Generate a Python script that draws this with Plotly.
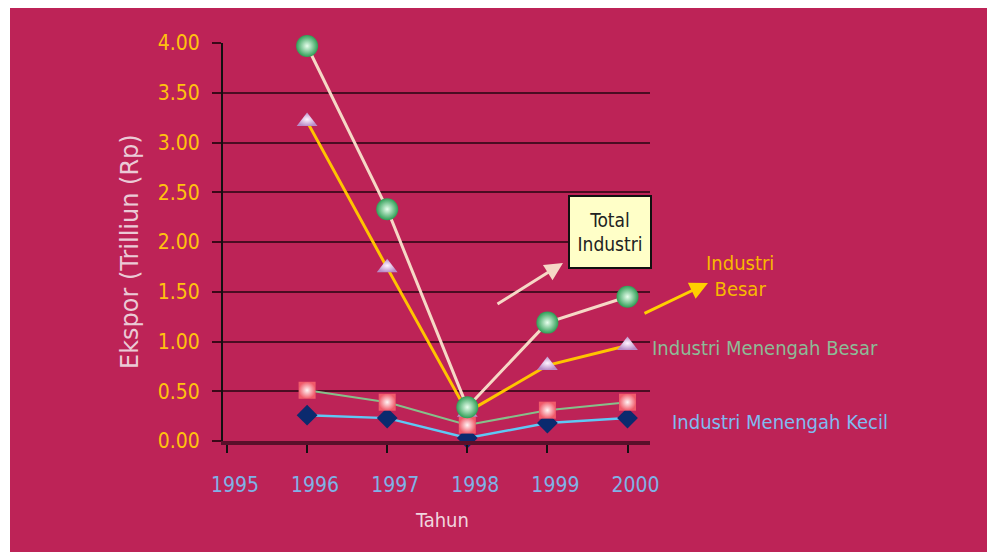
import plotly.graph_objects as go

years = [1996, 1997, 1998, 1999, 2000]
total_industri = [3.97, 2.33, 0.34, 1.19, 1.45]
industri_besar = [3.21, 1.74, 0.29, 0.76, 0.96]
menengah_besar = [0.51, 0.39, 0.16, 0.31, 0.39]
menengah_kecil = [0.26, 0.23, 0.03, 0.18, 0.23]

x_ticks = [1995, 1996, 1997, 1998, 1999, 2000]
y_ticks = [0, 0.5, 1.0, 1.5, 2.0, 2.5, 3.0, 3.5, 4.0]
y_labels = ["%.2f" % v for v in y_ticks]

MAG = "#BD2357"
NARROW = "Liberation Sans Narrow, DejaVu Sans Condensed, Arial Narrow, sans-serif"

fig = go.Figure()

fig.add_trace(go.Scatter(
    x=years, y=menengah_kecil, mode="lines+markers", cliponaxis=False,
    line=dict(color="#5EC8F5", width=2.5),
    marker=dict(symbol="diamond", size=16, color="#0B2A6E"),
))
fig.add_trace(go.Scatter(
    x=years, y=menengah_besar, mode="lines+markers", cliponaxis=False,
    line=dict(color="#86C08A", width=2),
    marker=dict(symbol="square", size=17, color="#F05A6A",
                gradient=dict(type="radial", color="#FFF4F4")),
))
fig.add_trace(go.Scatter(
    x=years, y=industri_besar, mode="lines+markers", cliponaxis=False,
    line=dict(color="#FFC400", width=3),
    marker=dict(symbol="triangle-up", size=18, color="#B98CC8",
                gradient=dict(type="radial", color="#FFF4FF")),
))
fig.add_trace(go.Scatter(
    x=years, y=total_industri, mode="lines+markers", cliponaxis=False,
    line=dict(color="#F6D8C6", width=3),
    marker=dict(symbol="circle", size=22, color="#2E9E55",
                gradient=dict(type="radial", color="#E8FFEE")),
))

L, T, W, H = 223, 43, 427, 398
def xp(px):
    return (px - L) / W
def yp(py):
    return (T + H - py) / H

def label(x, y, text, size, color, family=NARROW, angle=0):
    return dict(x=xp(x), y=yp(y), xref="paper", yref="paper", showarrow=False,
                xanchor="center", yanchor="middle", text=text, textangle=angle,
                font=dict(family=family, size=size, color=color))

def arrow(hx, hy, tx, ty, color):
    return dict(x=xp(hx), y=yp(hy), ax=tx - hx, ay=ty - hy, xref="paper", yref="paper",
                axref="pixel", ayref="pixel", showarrow=True, arrowhead=2, arrowsize=1.2,
                arrowwidth=3, arrowcolor=color, text="")

annotations = [
    arrow(563, 263, 496, 305, "#F6D8C6"),
    arrow(708, 283, 643, 314, "#FFD000"),
    dict(x=xp(610), y=yp(232), xref="paper", yref="paper", showarrow=False,
         xanchor="center", yanchor="middle",
         text="Total<br>Industri", bgcolor="#FFFFC8", bordercolor="#111111",
         borderwidth=2, width=78, height=68,
         font=dict(family=NARROW, size=19, color="#222222")),
    label(740, 276, "Industri<br>Besar", 20, "#F8B800"),
    label(765, 348, "Industri Menengah Besar", 20, "#8DBB96"),
    label(780, 422, "Industri Menengah Kecil", 20, "#80BBF0"),
    label(130, 252, "Ekspor (Trilliun (Rp)", 24, "#EBCAD6",
          family="DejaVu Sans, sans-serif", angle=-90),
    label(442, 520, "Tahun", 20, "#F0D6DF", family="DejaVu Sans Condensed, sans-serif"),
]

fig.update_layout(
    width=987, height=552,
    margin=dict(l=L, r=987 - L - W, t=T, b=552 - T - H),
    paper_bgcolor="white",
    plot_bgcolor="rgba(0,0,0,0)",
    showlegend=False,
    annotations=annotations,
    shapes=[dict(type="rect", xref="paper", yref="paper", layer="below",
                 x0=xp(10), x1=xp(1000), y0=yp(560), y1=yp(8),
                 fillcolor=MAG, line=dict(width=0))],
    xaxis=dict(range=[1994.95, 1994.95 + 427 / 80.1], tickvals=x_ticks,
               ticktext=[str(v) for v in x_ticks],
               showgrid=False, zeroline=False, showline=True, linecolor="#5A0F2A",
               linewidth=4, ticks="outside", ticklen=8, tickwidth=2, tickcolor="#111111",
               ticklabelshift=8, ticklabelstandoff=14,
               tickfont=dict(family=NARROW, size=21, color="#7FB2E6")),
    yaxis=dict(range=[0, 4.0], tickvals=y_ticks, ticktext=y_labels,
               showgrid=True, gridcolor="#4A0C22", gridwidth=2, zeroline=False,
               showline=True, linecolor="#111111", linewidth=2,
               ticks="outside", ticklen=9, tickwidth=2, tickcolor="#3A0818",
               ticklabelstandoff=8,
               tickfont=dict(family=NARROW, size=21, color="#FFC20E")),
)

fig.write_html("out.html")
